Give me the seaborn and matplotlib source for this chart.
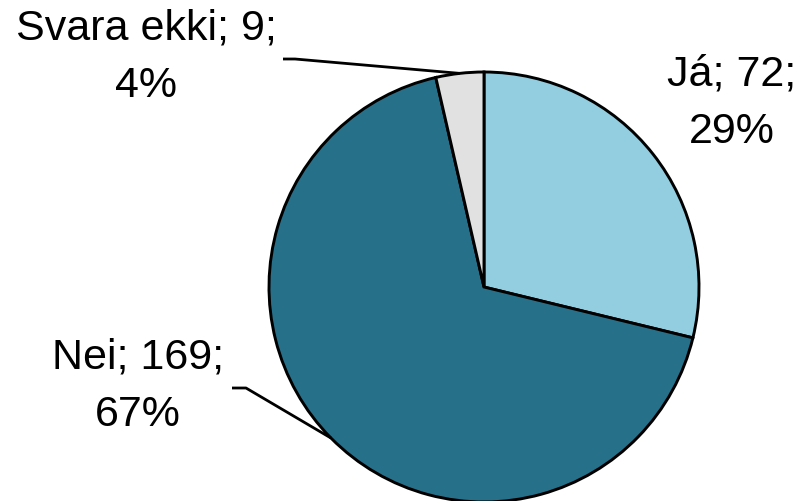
import numpy as np
import matplotlib
matplotlib.use("Agg")
import matplotlib.pyplot as plt
import seaborn as sns

categories = ["Já", "Nei", "Svara ekki"]
counts = [72, 169, 9]
percents = ["29%", "67%", "4%"]
colors = ["#93CEE0", "#27708A", "#E1E1E1"]

sns.set_theme(style="white")
plt.rcParams["font.family"] = ["Liberation Sans", "DejaVu Sans"]

W, H = 802, 501
fig = plt.figure(figsize=(W / 100, H / 100), dpi=100)
ax = fig.add_axes([0, 0, 1, 1])

cx, cy, r = 484, H - 287, 215
wedges, _ = ax.pie(counts, colors=colors, startangle=90, counterclock=False,
                   center=(cx, cy), radius=r, frame=True,
                   wedgeprops=dict(edgecolor="black", linewidth=2.1))
ax.set_xlim(0, W)
ax.set_ylim(0, H)
ax.set_aspect("equal")
ax.axis("off")

# label positions (pixel coords from top)
label_pos = [(732, 103), (138, 386), (146, 57)]
leader = [None, (232, 246), (283, 295)]
leader_y = [None, 388, 59]
for i, (cat, n, p) in enumerate(zip(categories, counts, percents)):
    lx, ly = label_pos[i]
    ax.text(lx, H - ly, f"{cat}; {n};\n{p}", ha="center", va="center",
            fontsize=31, linespacing=1.58, color="black")
    if leader[i] is not None:
        w = wedges[i]
        mid = np.deg2rad((w.theta1 + w.theta2) / 2)
        ex, ey = cx + r * np.cos(mid), cy + r * np.sin(mid)
        x0, x1 = leader[i]
        yy = H - leader_y[i]
        ax.plot([x0, x1, ex], [yy, yy, ey], color="black", lw=2.0,
                solid_capstyle="butt")

fig.savefig("out.png", dpi=100)
